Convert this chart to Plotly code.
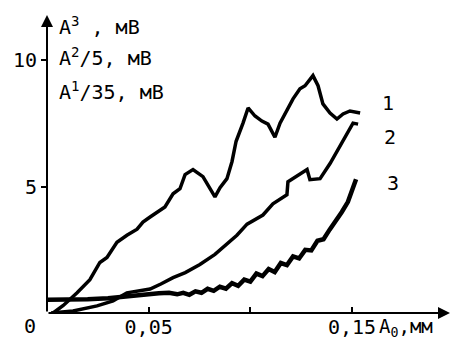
import plotly.graph_objects as go

# Curve 1
x1 = [0.003, 0.008, 0.0148, 0.0211, 0.026, 0.0295, 0.0344, 0.0393, 0.0443, 0.0472,
      0.0507, 0.0541, 0.058, 0.062, 0.0654, 0.0679, 0.0718, 0.0767, 0.0802, 0.0826,
      0.0851, 0.0885, 0.091, 0.093, 0.0964, 0.0989, 0.1023, 0.1057, 0.1087, 0.1121,
      0.1146, 0.118, 0.121, 0.1244, 0.1269, 0.1308, 0.1333, 0.1357, 0.1392, 0.1426,
      0.1456, 0.149, 0.154]
y1 = [0.0, 0.3, 0.8, 1.32, 2.0, 2.2, 2.8, 3.08, 3.32, 3.6,
      3.8, 4.0, 4.2, 4.72, 4.92, 5.48, 5.68, 5.4, 4.92, 4.6,
      4.96, 5.32, 6.0, 6.8, 7.52, 8.12, 7.8, 7.6, 7.48, 6.96,
      7.52, 8.0, 8.48, 8.88, 9.0, 9.4, 9.0, 8.28, 7.92, 7.68,
      7.88, 8.0, 7.92]

# Curve 2
x2 = [0.002, 0.0128, 0.0246, 0.0325, 0.0393, 0.0457, 0.0507, 0.056, 0.062, 0.068,
      0.0752, 0.0826, 0.088, 0.0934, 0.0984, 0.1023, 0.1062, 0.1111, 0.118, 0.1185,
      0.1244, 0.1279, 0.1293, 0.1343, 0.1392, 0.1441, 0.148, 0.1505, 0.153]
y2 = [0.0, 0.08, 0.28, 0.48, 0.8, 0.88, 0.95, 1.15, 1.4, 1.6,
      1.92, 2.32, 2.7, 3.08, 3.52, 3.7, 3.88, 4.32, 4.68, 5.2,
      5.52, 5.68, 5.28, 5.32, 5.92, 6.6, 7.12, 7.52, 7.48]

# Curve 3
x3 = [0.0, 0.010, 0.020, 0.030, 0.040, 0.045, 0.050, 0.055, 0.060, 0.064,
      0.067, 0.070, 0.073, 0.076, 0.079, 0.082, 0.085, 0.088, 0.091, 0.094,
      0.097, 0.100, 0.103, 0.106, 0.109, 0.112, 0.115, 0.118, 0.121, 0.124,
      0.127, 0.130, 0.133, 0.136, 0.139, 0.142, 0.145, 0.148, 0.150, 0.152]
y3 = [0.52, 0.52, 0.54, 0.58, 0.66, 0.74, 0.76, 0.78, 0.80, 0.74,
      0.80, 0.72, 0.86, 0.80, 0.96, 0.88, 1.04, 0.96, 1.18, 1.08,
      1.32, 1.24, 1.56, 1.46, 1.74, 1.62, 1.98, 1.90, 2.24, 2.16,
      2.50, 2.48, 2.86, 2.92, 3.30, 3.62, 4.00, 4.40, 4.85, 5.30]

curve_names = ["1", "2", "3"]
x_ticks = [0.05, 0.15]
x_tick_text = ["0,05", "0,15"]
x_minor_step = 0.05
y_ticks = [5, 10]
y_tick_text = ["5", "10"]
y_titles = ["A<sup>3</sup> , мВ", "A<sup>2</sup>/5, мВ", "A<sup>1</sup>/35, мВ"]
x_title = "A<sub>0</sub>,мм"

FONT = "DejaVu Sans Mono"
INK = "black"
X_MAX = 0.1982
Y_MAX = 11.8

fig = go.Figure()
for xs, ys, w in [(x1, y1, 3.5), (x2, y2, 3.5), (x3, y3, 4.5)]:
    fig.add_trace(go.Scatter(x=xs, y=ys, mode="lines",
                             line=dict(color=INK, width=w), showlegend=False))

# Curve numbers at the right ends
label_pos = [(0.1638, 8.32), (0.1647, 6.97), (0.1662, 5.15)]
for name, (lx, ly) in zip(curve_names, label_pos):
    fig.add_annotation(x=lx, y=ly, text=name, showarrow=False, xanchor="left",
                       font=dict(family=FONT, size=20, color=INK))

# Axis arrows
fig.add_annotation(x=X_MAX, y=0, ax=0, ay=0, axref="x", ayref="y", text="",
                   showarrow=True, arrowhead=2, arrowsize=1.2, arrowwidth=2,
                   arrowcolor=INK)
fig.add_annotation(x=0, y=Y_MAX, ax=0, ay=0, axref="x", ayref="y", text="",
                   showarrow=True, arrowhead=2, arrowsize=1.2, arrowwidth=2,
                   arrowcolor=INK)

# Y-axis titles (stacked)
for txt, ty in zip(y_titles, [11.37, 10.14, 8.79]):
    fig.add_annotation(x=0.005, y=ty, text=txt, showarrow=False, xanchor="left",
                       font=dict(family=FONT, size=20, color=INK))

# Origin label and x-axis title (paper coordinates, below the plot area)
fig.add_annotation(xref="paper", yref="paper", x=-0.042, y=-0.044, text="0",
                   showarrow=False, xanchor="center", yanchor="middle",
                   font=dict(family=FONT, size=20, color=INK))
fig.add_annotation(xref="paper", yref="paper", x=0.818, y=-0.047, text=x_title,
                   showarrow=False, xanchor="left", yanchor="middle",
                   font=dict(family=FONT, size=19, color=INK))

fig.update_xaxes(range=[0, X_MAX], showgrid=False, zeroline=False, showline=False,
                 tickvals=x_ticks, ticktext=x_tick_text, ticks="inside",
                 ticklen=6, tickwidth=2, tickcolor=INK,
                 minor=dict(tick0=0, dtick=x_minor_step, ticks="inside",
                            ticklen=6, tickwidth=2, tickcolor=INK, showgrid=False),
                 tickfont=dict(family=FONT, size=20, color=INK))
fig.update_yaxes(range=[0, Y_MAX], showgrid=False, zeroline=False, showline=False,
                 tickvals=y_ticks, ticktext=y_tick_text, ticks="outside",
                 ticklen=5, tickwidth=2, tickcolor=INK,
                 tickfont=dict(family=FONT, size=20, color=INK))

fig.update_layout(width=457, height=353,
                  margin=dict(l=47, r=7, t=15, b=40, pad=0),
                  plot_bgcolor="white", paper_bgcolor="white")

fig.write_html("out.html")
